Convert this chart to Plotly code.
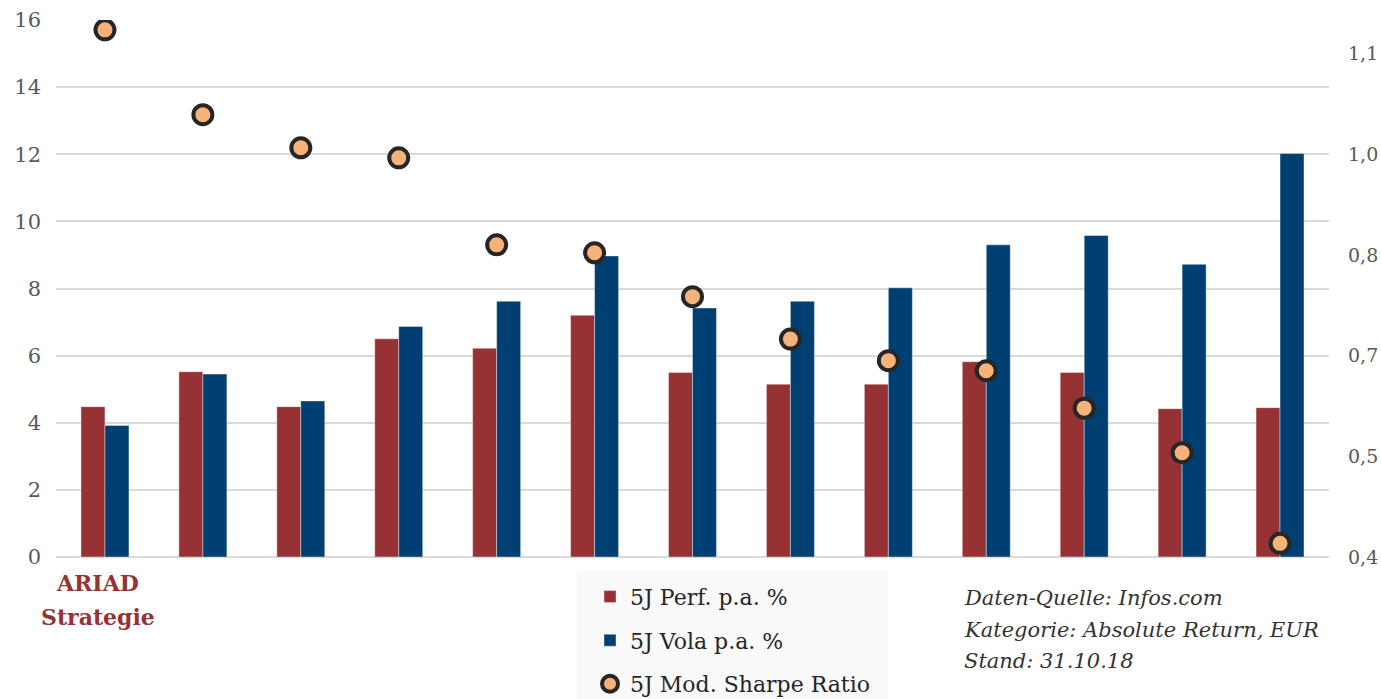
import plotly.graph_objects as go

# Data
fund_index = list(range(13))
highlight_label = ["ARIAD", "Strategie"]
perf = [4.48, 5.52, 4.48, 6.50, 6.22, 7.20, 5.50, 5.15, 5.15, 5.82, 5.50, 4.42, 4.45]
vola = [3.92, 5.45, 4.65, 6.87, 7.62, 8.97, 7.42, 7.62, 8.02, 9.30, 9.58, 8.72, 12.02]
sharpe = [1.133, 1.015, 0.969, 0.955, 0.834, 0.823, 0.762, 0.703, 0.673, 0.659, 0.607, 0.545, 0.419]

left_ticks = [0, 2, 4, 6, 8, 10, 12, 14, 16]
right_tickvals = [0.40, 0.54, 0.68, 0.82, 0.96, 1.10]
right_ticktext = ["0,4", "0,5", "0,7", "0,8", "1,0", "1,1"]
note_lines = ["Daten-Quelle: Infos.com", "Kategorie: Absolute Return, EUR", "Stand: 31.10.18"]

RED = "#963234"
BLUE = "#003f72"
FONT = "DejaVu Serif"

# pixel helpers for paper coordinates (plot area: x 56..1329, y 20..557)
def py(p):
    return (557 - p) / 537

def px(p):
    return (p - 56) / 1273

fig = go.Figure()
fig.add_trace(go.Bar(x=fund_index, y=perf, name="5J Perf. p.a. %", marker_color=RED,
                     marker_line=dict(color="rgba(255,255,255,0.4)", width=1),
                     legendgroup="a"))
fig.add_trace(go.Bar(x=fund_index, y=vola, name="5J Vola p.a. %", marker_color=BLUE,
                     marker_line=dict(color="rgba(255,255,255,0.4)", width=1),
                     legendgroup="b"))
fig.add_trace(go.Scatter(x=fund_index, y=sharpe, name="5J Mod. Sharpe Ratio", mode="markers",
                         yaxis="y2", legendgroup="c",
                         marker=dict(size=19, color="#f7b27a",
                                     line=dict(color="#262626", width=4))))

annotations = []
for i, (line, yp) in enumerate(zip(highlight_label, [583, 617])):
    annotations.append(dict(xref="x", yref="paper", x=fund_index[0], xshift=-7, y=py(yp),
                            xanchor="center", yanchor="middle", showarrow=False,
                            text="<b>" + line + "</b>",
                            font=dict(size=22, color=RED, family=FONT)))
for line, yp in zip(note_lines, [598, 630, 661]):
    annotations.append(dict(xref="paper", yref="paper", x=px(962), y=py(yp),
                            xanchor="left", yanchor="middle", showarrow=False,
                            text="<i>" + line + "</i>",
                            font=dict(size=21, color="#333333", family=FONT)))

fig.update_layout(
    width=1381, height=699,
    margin=dict(l=56, r=52, t=20, b=142, autoexpand=False),
    paper_bgcolor="white", plot_bgcolor="white",
    barmode="group", bargap=0.51, bargroupgap=0,
    font=dict(family=FONT, color="#595959", size=20),
    xaxis=dict(range=[-0.5, 12.5], showticklabels=False, showgrid=False, zeroline=False,
               showline=False, ticks="", automargin=False),
    yaxis=dict(range=[0, 16], tickvals=left_ticks, gridcolor="#d9d9d9", gridwidth=1.5,
               zeroline=True, zerolinecolor="#d9d9d9", zerolinewidth=2,
               tickfont=dict(size=21, color="#595959"), ticks="", ticklabelstandoff=14,
               automargin=False),
    yaxis2=dict(range=[0.4, 0.4 + 16 * 0.14 / 3], overlaying="y", side="right",
                tickvals=right_tickvals, ticktext=right_ticktext, showgrid=False,
                zeroline=False, tickfont=dict(size=19, color="#595959"), ticks="",
                ticklabelstandoff=18, automargin=False),
    legend=dict(x=0.4195, y=-0.035, xanchor="left", yanchor="top",
                bgcolor="rgba(0,0,0,0)", font=dict(size=22, color="#262626", family=FONT),
                tracegroupgap=12, itemwidth=30),
    showlegend=True,
    shapes=[dict(type="rect", xref="paper", yref="paper", x0=px(577), x1=px(888),
                 y0=py(699), y1=py(570), fillcolor="#f9f9f9", line=dict(width=0),
                 layer="below")],
    annotations=annotations,
)

fig.write_html("out.html", config={"displayModeBar": False},
               post_script="document.body.style.margin='0';document.body.style.overflow='hidden';")
